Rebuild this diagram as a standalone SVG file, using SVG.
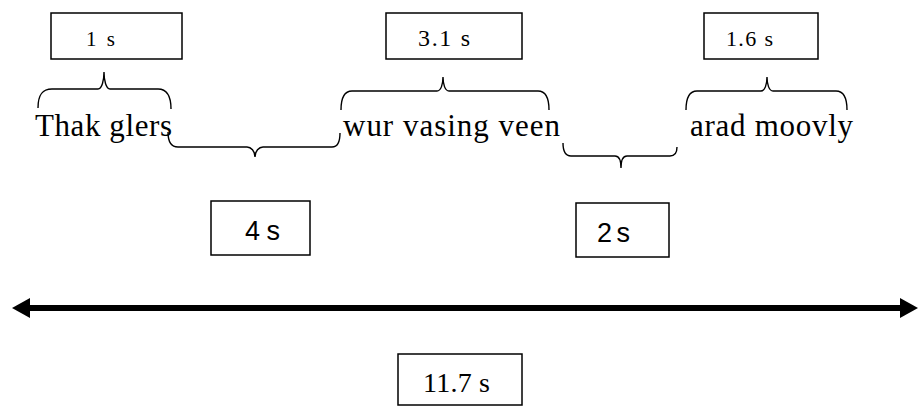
<svg xmlns="http://www.w3.org/2000/svg" width="919" height="407" viewBox="0 0 919 407">
<style>
.box{fill:#fff;stroke:#000;stroke-width:1.5}
.brace{fill:none;stroke:#000;stroke-width:1.4}
.serif{font-family:"Liberation Serif","Times New Roman",serif;fill:#000}
.sans{font-family:"Liberation Sans",Arial,sans-serif;fill:#000}
</style>
<rect width="919" height="407" fill="#fff"/>
<g id="box-1s"><rect class="box" x="51" y="13" width="131" height="46"/><text class="serif" x="86" y="46" font-size="21" textLength="29">1 s</text></g>
<g id="box-3-1s"><rect class="box" x="386" y="13" width="136" height="46"/><text class="serif" x="418" y="46" font-size="24" textLength="52">3.1 s</text></g>
<g id="box-1-6s"><rect class="box" x="704" y="13" width="114" height="46"/><text class="serif" x="726" y="46" font-size="22" textLength="47">1.6 s</text></g>
<g id="label-thak"><text class="serif" x="35" y="136" font-size="31" textLength="137">Thak glers</text></g>
<g id="label-wur"><text class="serif" x="343" y="136" font-size="31" textLength="217">wur vasing veen</text></g>
<g id="label-arad"><text class="serif" x="690" y="136" font-size="31" textLength="163">arad moovly</text></g>
<g id="box-4s"><rect class="box" x="211" y="201" width="99" height="54"/><text class="sans" x="245" y="240" font-size="27" textLength="35">4 s</text></g>
<g id="box-2s"><rect class="box" x="576" y="203" width="93" height="54"/><text class="sans" x="597" y="242" font-size="27" textLength="33">2 s</text></g>
<g id="box-11-7s"><rect class="box" x="398" y="354" width="124" height="51"/><text class="serif" x="423" y="392" font-size="28" textLength="67">11.7 s</text></g>
<g id="connectors">
<path class="brace" d="M38,108 C38,95 42,89 52,89 L98,89 C102,89 104,80 104,72 C104,80 106,89 110,89 L158,89 C166,89 171,95 171,109"/>
<path class="brace" d="M168,132 C168,142 171,147 178,147 L247,147 C251,147 255,151 255,157 C255,151 259,147 263,147 L332,147 C338,147 340,142 340,133"/>
<path class="brace" d="M341,110 C341,97 345,91 352,91 L437,91 C441,91 443,84 443,77 C443,84 445,91 449,91 L538,91 C545,91 549,97 549,110"/>
<path class="brace" d="M563,143 C563,151 565,156 571,156 L615,156 C619,156 621,161 621,168 C621,161 623,156 627,156 L670,156 C675,156 677,152 677,147"/>
<path class="brace" d="M686,110 C686,97 690,91 697,91 L761,91 C765,91 767,84 767,77 C767,84 769,91 773,91 L836,91 C843,91 847,97 847,110"/>
<line x1="28" y1="308" x2="902" y2="308" stroke="#000" stroke-width="6"/>
<polygon points="12,308 30,298 30,318" fill="#000"/>
<polygon points="918,308 900,298 900,318" fill="#000"/>
</g>
</svg>
